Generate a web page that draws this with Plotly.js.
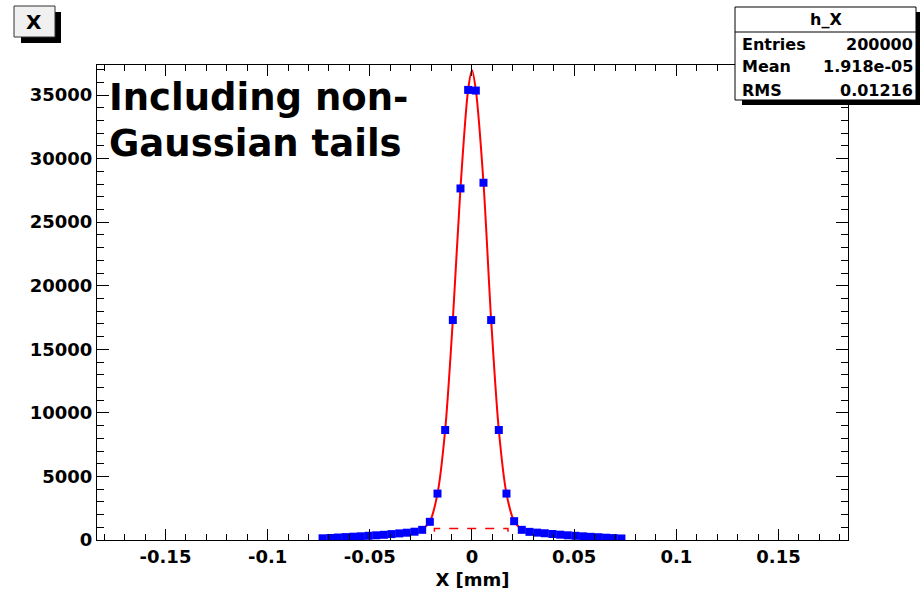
<!DOCTYPE html>
<html>
<head>
<meta charset="utf-8">
<script src="https://cdn.plot.ly/plotly-3.0.1.min.js"></script>
<style>html,body{margin:0;padding:0;background:#fff;}#chart{width:920px;height:593px;}</style>
</head>
<body>
<div id="chart"></div>
<script>
// ---- data ----
const binCenters = [-0.073125,-0.069375,-0.065625,-0.061875,-0.058125,-0.054375,-0.050625,-0.046875,-0.043125,-0.039375,
  -0.035625,-0.031875,-0.028125,-0.024375,-0.020625,-0.016875,-0.013125,-0.009375,-0.005625,-0.001875,
  0.001875,0.005625,0.009375,0.013125,0.016875,0.020625,0.024375,0.028125,0.031875,0.035625,
  0.039375,0.043125,0.046875,0.050625,0.054375,0.058125,0.061875,0.065625,0.069375,0.073125];
const counts = [134,157,196,228,259,291,330,369,409,464,
  519,574,652,800,1430,3650,8650,17300,27650,35400,
  35350,28100,17300,8650,3650,1480,800,640,580,530,
  470,420,370,330,290,250,220,180,150,120];
const fitX = [-0.0245,-0.020625,-0.016875,-0.013125,-0.009375,-0.005625,-0.001875,0,0.001875,0.005625,0.009375,0.013125,0.016875,0.020625,0.0245];
const fitY = [780,1450,3650,8650,17300,27700,35450,36950,35400,28100,17300,8650,3650,1480,780];
const tailX = [-0.0184,-0.0184,0.0176,0.0176];
const tailY = [650,900,900,650];
const xTickVals = [-0.15,-0.1,-0.05,0,0.05,0.1,0.15];
const xTickText = ['-0.15','-0.1','-0.05','0','0.05','0.1','0.15'];
const yTickVals = [0,5000,10000,15000,20000,25000,30000,35000];
const yTickText = ['0','5000','10000','15000','20000','25000','30000','35000'];
const statLabels = ['Entries','Mean','RMS'];
const statValues = ['200000','1.918e-05','0.01216'];
const histName = 'h_X';
const canvasTitle = 'X';
const noteLines = ['Including non-','Gaussian tails'];

// ---- layout helpers (pixel -> paper) ----
const L = 97, R = 848, T = 65, B = 540;
const px = v => (v - L) / (R - L);
const py = v => (B - v) / (B - T);
const FONT = 'DejaVu Sans';

const traces = [
  {x: fitX, y: fitY, type: 'scatter', mode: 'lines', line: {color: '#ff0000', width: 2, shape: 'spline', smoothing: 0.8}, hoverinfo: 'skip'},
  {x: tailX, y: tailY, type: 'scatter', mode: 'lines', line: {color: '#ff0000', width: 1.5, dash: 'dash'}, hoverinfo: 'skip'},
  {x: binCenters, y: counts, type: 'scatter', mode: 'markers', marker: {symbol: 'square', size: 8, color: '#0000ff', line: {width: 0}}}
];

const shapes = [
  // canvas title box
  {type: 'rect', xref: 'paper', yref: 'paper', x0: px(21), x1: px(61), y0: py(43), y1: py(12), fillcolor: '#000', line: {width: 0}, layer: 'above'},
  {type: 'rect', xref: 'paper', yref: 'paper', x0: px(14), x1: px(55), y0: py(37), y1: py(6), fillcolor: '#f0f0f0', line: {color: '#333', width: 1}, layer: 'above'},
  // stats box
  {type: 'rect', xref: 'paper', yref: 'paper', x0: px(742), x1: px(925), y0: py(105), y1: py(12), fillcolor: '#000', line: {width: 0}, layer: 'above'},
  {type: 'rect', xref: 'paper', yref: 'paper', x0: px(735), x1: px(916), y0: py(100), y1: py(7), fillcolor: '#fff', line: {color: '#000', width: 1}, layer: 'above'},
  {type: 'line', xref: 'paper', yref: 'paper', x0: px(735), x1: px(916), y0: py(32), y1: py(32), line: {color: '#000', width: 1}, layer: 'above'}
];

const annotations = [
  {xref: 'paper', yref: 'paper', x: px(34), y: py(22), text: '<b>' + canvasTitle + '</b>', showarrow: false, xanchor: 'center', yanchor: 'middle', font: {family: FONT, size: 20, color: '#000'}},
  {xref: 'paper', yref: 'paper', x: px(826), y: py(20), text: '<b>' + histName + '</b>', showarrow: false, xanchor: 'center', yanchor: 'middle', font: {family: FONT, size: 16, color: '#000'}},
  {xref: 'paper', yref: 'paper', x: px(107), y: py(97), text: '<b>' + noteLines[0] + '</b>', showarrow: false, xanchor: 'left', yanchor: 'middle', font: {family: FONT, size: 37, color: '#000'}},
  {xref: 'paper', yref: 'paper', x: px(107), y: py(143), text: '<b>' + noteLines[1] + '</b>', showarrow: false, xanchor: 'left', yanchor: 'middle', font: {family: FONT, size: 37, color: '#000'}}
];
const rowY = [44, 67, 90];
statLabels.forEach((lab, i) => {
  annotations.push({xref: 'paper', yref: 'paper', x: px(740), y: py(rowY[i]), text: '<b>' + lab + '</b>', showarrow: false, xanchor: 'left', yanchor: 'middle', font: {family: FONT, size: 16, color: '#000'}});
  annotations.push({xref: 'paper', yref: 'paper', x: px(915), y: py(rowY[i]), text: '<b>' + statValues[i] + '</b>', showarrow: false, xanchor: 'right', yanchor: 'middle', font: {family: FONT, size: 16, color: '#000'}});
});

const layout = {
  width: 920, height: 593,
  margin: {l: L, r: 920 - R, t: T, b: 593 - B},
  paper_bgcolor: '#fff', plot_bgcolor: '#fff',
  showlegend: false,
  font: {family: FONT, color: '#000'},
  xaxis: {
    range: [-0.1835, 0.184],
    tickmode: 'array', tickvals: xTickVals, ticktext: xTickText,
    ticks: 'inside', ticklen: 11, tickwidth: 1, tickcolor: '#000',
    minor: {tickmode: 'linear', tick0: 0, dtick: 0.01, ticks: 'inside', ticklen: 6, tickcolor: '#000', showgrid: false},
    showline: true, linecolor: '#000', linewidth: 1, mirror: 'ticks',
    showgrid: false, zeroline: false,
    tickfont: {family: FONT, size: 18, weight: 'bold', color: '#000'},
    title: {text: '<b>X [mm]</b>', font: {family: FONT, size: 18, color: '#000'}, standoff: 7}
  },
  yaxis: {
    range: [0, 37360],
    tickmode: 'array', tickvals: yTickVals, ticktext: yTickText,
    ticks: 'inside', ticklen: 12, tickwidth: 1, tickcolor: '#000',
    minor: {tickmode: 'linear', tick0: 0, dtick: 1000, ticks: 'inside', ticklen: 7, tickcolor: '#000', showgrid: false},
    showline: true, linecolor: '#000', linewidth: 1, mirror: 'ticks',
    showgrid: false, zeroline: false,
    tickfont: {family: FONT, size: 18, weight: 'bold', color: '#000'}
  },
  shapes: shapes,
  annotations: annotations
};

Plotly.newPlot('chart', traces, layout, {displayModeBar: false, staticPlot: true});
</script>
</body>
</html>
